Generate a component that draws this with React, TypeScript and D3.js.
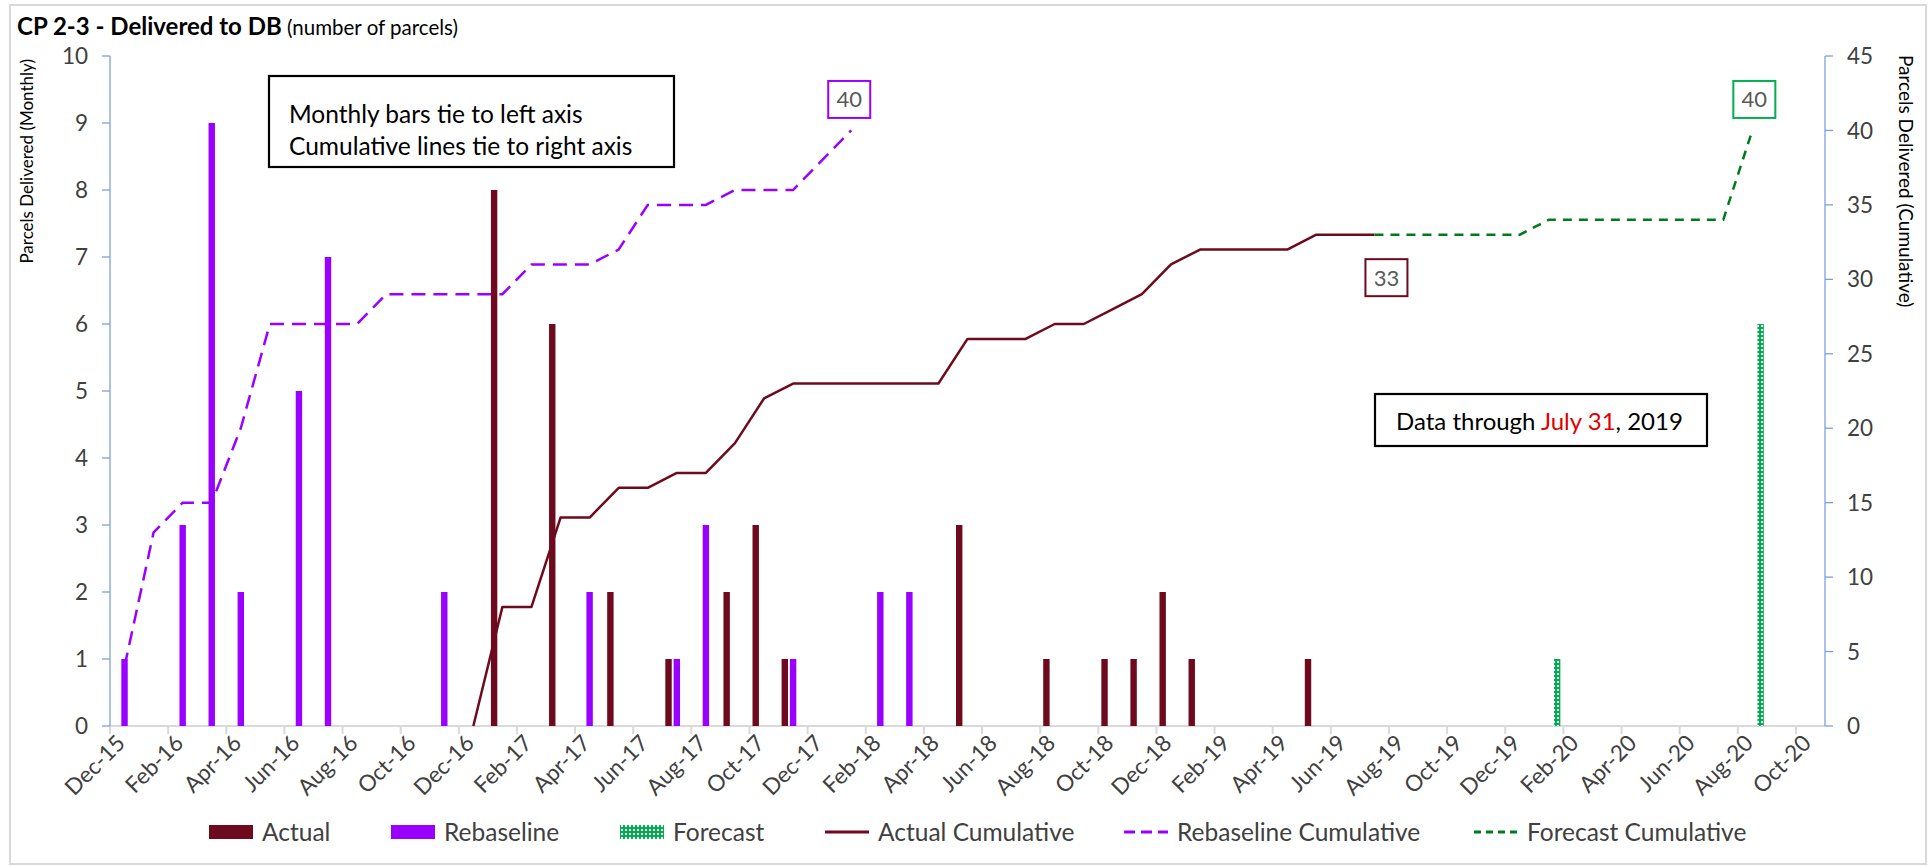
import React from "react";
import * as d3 from "d3";

// ---------- categories ----------
const fmt = d3.timeFormat("%b-%y");
const months: string[] = d3.timeMonths(new Date(2015, 11, 1), new Date(2020, 10, 1)).map(fmt); // Dec-15 .. Oct-20
const tickMonths: string[] = months.filter((_, i) => i % 2 === 0);

// ---------- monthly bars (left axis) ----------
const actualMonths = ["Jan-17", "Mar-17", "May-17", "Jul-17", "Sep-17", "Oct-17", "Nov-17", "May-18", "Aug-18", "Oct-18", "Nov-18", "Dec-18", "Jan-19", "May-19"];
const actualValues = [8, 6, 2, 1, 2, 3, 1, 3, 1, 1, 1, 2, 1, 1];

const rebaselineMonths = ["Dec-15", "Feb-16", "Mar-16", "Apr-16", "Jun-16", "Jul-16", "Nov-16", "Apr-17", "Jul-17", "Aug-17", "Nov-17", "Feb-18", "Mar-18"];
const rebaselineValues = [1, 3, 9, 2, 5, 7, 2, 2, 1, 3, 1, 2, 2];

const forecastMonths = ["Jan-20", "Aug-20"];
const forecastValues = [1, 6];

// ---------- cumulative lines (right axis) ----------
const actualCumStart = "Dec-16";
const actualCumValues = [0, 8, 8, 14, 14, 16, 16, 17, 17, 19, 22, 23, 23, 23, 23, 23, 23, 26, 26, 26, 27, 27, 28, 29, 31, 32, 32, 32, 32, 33, 33, 33];

const rebaselineCumStart = "Dec-15";
const rebaselineCumValues = [4, 13, 15, 15, 20, 27, 27, 27, 27, 29, 29, 29, 29, 29, 31, 31, 31, 32, 35, 35, 35, 36, 36, 36, 38, 40];

const forecastCumStart = "Jul-19";
const forecastCumValues = [33, 33, 33, 33, 33, 33, 34, 34, 34, 34, 34, 34, 34, 40];

const leftTicks = d3.range(0, 11, 1);
const rightTicks = d3.range(0, 46, 5);

// ---------- styling ----------
const FONT = "Lato, 'Open Sans', sans-serif";
const C_ACTUAL = "#6E0A1E";
const C_REBASE = "#9900FF";
const C_FORECAST = "#00B050";
const C_FCUM = "#007A1A";
const C_AXIS = "#7DA0DC";
const C_TEXT = "#404040";

const W = 1929;
const H = 867;
const X0 = 110;
const X1 = 1825;
const YB = 726;
const YT = 56;

export default function App() {
  const x = d3.scaleBand<string>().domain(months).range([X0, X1]).padding(0);
  const bw = x.bandwidth();
  const cx = (m: string) => (x(m) as number) + bw / 2;
  const yL = d3.scaleLinear().domain([0, 10]).range([YB, YT]);
  const yR = d3.scaleLinear().domain([0, 45]).range([YB, YT]);

  const barW = 6.4;
  const off = 8.3;

  const toPts = (start: string, vals: number[]) => {
    const s = months.indexOf(start);
    return vals.map((v, i) => [cx(months[s + i]), yR(v)] as [number, number]);
  };
  const line = d3.line<[number, number]>();
  const actualPts = toPts(actualCumStart, actualCumValues);
  const rebasePts = toPts(rebaselineCumStart, rebaselineCumValues);
  const fcPts = toPts(forecastCumStart, forecastCumValues);

  const rebEnd = rebasePts[rebasePts.length - 1];
  const actEnd = actualPts[actualPts.length - 1];
  const fcEnd = fcPts[fcPts.length - 1];

  const bars = (ms: string[], vs: number[], dx: number, fill: string, key: string) =>
    ms.map((m, i) => (
      <rect key={key + i} x={cx(m) + dx - barW / 2} y={yL(vs[i])} width={barW} height={YB - yL(vs[i])} fill={fill} />
    ));

  const valueBox = (px: number, py: number, txt: string, stroke: string) => (
    <g>
      <rect x={px - 21} y={py - 18.5} width={42} height={37} fill="#fff" stroke={stroke} strokeWidth={2} />
      <text x={px} y={py} dy="0.36em" textAnchor="middle" fontSize={22} fill="#595959">{txt}</text>
    </g>
  );

  const legendY = 832;
  const legendItems = [
    { type: "rect", fill: C_ACTUAL, x: 209, tx: 262, label: "Actual" },
    { type: "rect", fill: C_REBASE, x: 391, tx: 444, label: "Rebaseline" },
    { type: "rect", fill: "url(#fcPattern)", x: 620, tx: 673, label: "Forecast" },
    { type: "line", stroke: C_ACTUAL, dash: "", x: 825, tx: 878, label: "Actual Cumulative" },
    { type: "line", stroke: C_REBASE, dash: "11 6", x: 1124, tx: 1177, label: "Rebaseline Cumulative" },
    { type: "line", stroke: C_FCUM, dash: "7 5", x: 1474, tx: 1527, label: "Forecast Cumulative" },
  ];

  return (
    <svg width={W} height={H} style={{ position: "absolute", left: 0, top: 0, background: "#fff" }} fontFamily={FONT}>
      <defs>
        <pattern id="fcPattern" patternUnits="userSpaceOnUse" width={4} height={4}>
          <rect width={4} height={4} fill={C_FORECAST} />
          <rect x={1} y={1} width={2} height={2} fill="#fff" />
        </pattern>
      </defs>
      <rect x={0} y={0} width={W} height={H} fill="#fff" />
      <rect x={10} y={5} width={1916} height={859} fill="none" stroke="#D9D9D9" strokeWidth={2} />

      {/* title */}
      <text x={17} y={35} fill="#000">
        <tspan fontWeight="bold" fontSize={24}>CP 2-3 - Delivered to DB</tspan>
        <tspan fontSize={20.5}> (number of parcels)</tspan>
      </text>

      {/* axis titles */}
      <text transform={`translate(27,59) rotate(-90)`} textAnchor="end" dy="0.35em" fontSize={17} fill="#000">Parcels Delivered (Monthly)</text>
      <text transform={`translate(1906,55) rotate(90)`} textAnchor="start" dy="0.35em" fontSize={19} fill="#000">Parcels Delivered (Cumulative)</text>

      {/* x axis */}
      <line x1={X0} x2={X1} y1={YB} y2={YB} stroke="#D9D9D9" strokeWidth={2} />
      {tickMonths.map((m) => (
        <g key={m}>
          <line x1={x(m)} x2={x(m)} y1={YB} y2={YB + 8} stroke="#D9D9D9" strokeWidth={2} />
          <text transform={`translate(${(x(m) as number) + 11},${YB + 13}) rotate(-45)`} textAnchor="end" dy="0.35em" fontSize={22.5} fill={C_TEXT}>{m}</text>
        </g>
      ))}

      {/* left axis */}
      <line x1={X0} x2={X0} y1={YT} y2={YB} stroke={C_AXIS} strokeWidth={1.3} />
      {leftTicks.map((t) => (
        <g key={"l" + t}>
          <line x1={X0 - 8} x2={X0} y1={yL(t)} y2={yL(t)} stroke={C_AXIS} strokeWidth={1.3} />
          <text x={88} y={yL(t)} dy="0.36em" textAnchor="end" fontSize={22.5} fill={C_TEXT}>{t}</text>
        </g>
      ))}

      {/* right axis */}
      <line x1={X1} x2={X1} y1={YT} y2={YB} stroke={C_AXIS} strokeWidth={1.3} />
      {rightTicks.map((t) => (
        <g key={"r" + t}>
          <line x1={X1} x2={X1 + 8} y1={yR(t)} y2={yR(t)} stroke={C_AXIS} strokeWidth={1.3} />
          <text x={1847} y={yR(t)} dy="0.36em" textAnchor="start" fontSize={22.5} fill={C_TEXT}>{t}</text>
        </g>
      ))}

      {/* bars */}
      {bars(actualMonths, actualValues, -off, C_ACTUAL, "a")}
      {bars(rebaselineMonths, rebaselineValues, 0, C_REBASE, "r")}
      {bars(forecastMonths, forecastValues, off, "url(#fcPattern)", "f")}

      {/* cumulative lines */}
      <path d={line(rebasePts) as string} fill="none" stroke={C_REBASE} strokeWidth={2.5} strokeDasharray="14 8" />
      <path d={line(actualPts) as string} fill="none" stroke={C_ACTUAL} strokeWidth={2.5} strokeLinejoin="round" />
      <path d={line(fcPts) as string} fill="none" stroke={C_FCUM} strokeWidth={2.5} strokeDasharray="9 7" />

      {/* end labels */}
      {valueBox(rebEnd[0] - 2, rebEnd[1] - 31, String(rebaselineCumValues[rebaselineCumValues.length - 1]), C_REBASE)}
      {valueBox(actEnd[0] + 12, actEnd[1] + 43, String(actualCumValues[actualCumValues.length - 1]), C_ACTUAL)}
      {valueBox(fcEnd[0] + 2, fcEnd[1] - 31, String(forecastCumValues[forecastCumValues.length - 1]), C_FORECAST)}

      {/* annotation boxes */}
      <rect x={269} y={76} width={405} height={91} fill="#fff" stroke="#000" strokeWidth={2.2} />
      <text x={289} y={123} fontSize={24.5} fill="#000">Monthly bars tie to left axis</text>
      <text x={289} y={155} fontSize={24.5} fill="#000">Cumulative lines tie to right axis</text>

      <rect x={1375} y={394} width={332} height={52} fill="#fff" stroke="#000" strokeWidth={2.2} />
      <text x={1396} y={430} fontSize={24} fill="#000">
        Data through <tspan fill="#E00000">July 31</tspan>, 2019
      </text>

      {/* legend */}
      {legendItems.map((it) => (
        <g key={it.label}>
          {it.type === "rect" ? (
            <rect x={it.x} y={legendY - 7} width={44} height={14} fill={it.fill} />
          ) : (
            <line x1={it.x} x2={it.x + 44} y1={legendY} y2={legendY} stroke={it.stroke} strokeWidth={3} strokeDasharray={it.dash || undefined} />
          )}
          <text x={it.tx} y={legendY} dy="0.36em" fontSize={24.5} fill={C_TEXT}>{it.label}</text>
        </g>
      ))}
    </svg>
  );
}
